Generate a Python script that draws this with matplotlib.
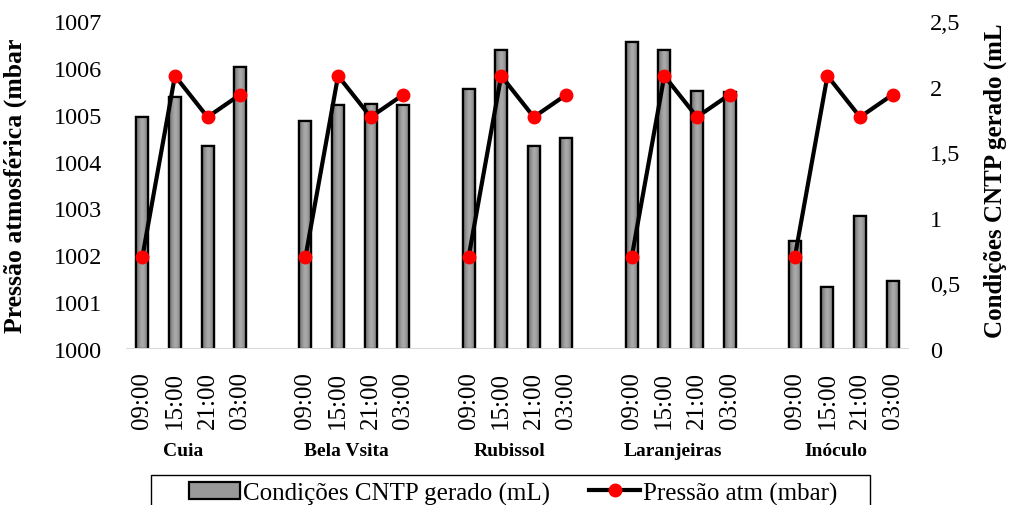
import matplotlib
matplotlib.use("Agg")
import matplotlib.pyplot as plt
from matplotlib.patches import Rectangle
from matplotlib.legend_handler import HandlerPatch
import numpy as np

plt.rcParams['font.family'] = ['Liberation Serif', 'DejaVu Serif']

groups = ["Cuia", "Bela Vsita", "Rubissol", "Laranjeiras", "Inóculo"]
times = ["09:00", "15:00", "21:00", "03:00"]
cntp = {
    "Cuia":        [1.77, 1.92, 1.55, 2.15],
    "Bela Vsita":  [1.74, 1.86, 1.87, 1.86],
    "Rubissol":    [1.98, 2.28, 1.55, 1.61],
    "Laranjeiras": [2.34, 2.28, 1.97, 1.96],
    "Inóculo":     [0.82, 0.47, 1.01, 0.52],
}
pressao = [1001.96, 1005.83, 1004.95, 1005.43]

# build 24 slots (4 bars + gap per group, last group without gap)
labels, bar_vals, line_vals = [], [], []
for gi, g in enumerate(groups):
    for ti, t in enumerate(times):
        labels.append(t)
        bar_vals.append(cntp[g][ti])
        line_vals.append(pressao[ti])
    if gi < len(groups) - 1:
        labels.append("")
        bar_vals.append(np.nan)
        line_vals.append(np.nan)
x = np.arange(len(labels))

fig = plt.figure(figsize=(10.10, 5.06), dpi=100)
ax = fig.add_axes([126/1010, 1-350/506, (909-126)/1010, (350-22)/506])
ax2 = ax.twinx()

bars = ax2.bar(x, bar_vals, width=0.37, color="#999999", edgecolor="black", linewidth=1.6,
               label="Condições CNTP gerado (mL)", zorder=2)

# horizontal gray gradient inside each bar (darker edges, lighter centre)
grad = 1 - np.abs(np.linspace(-1, 1, 64)) ** 1.5
grad = grad[np.newaxis, :]
for p in bars.patches:
    if np.isnan(p.get_height()):
        continue
    x0, w, h = p.get_x(), p.get_width(), p.get_height()
    im = ax2.imshow(grad, extent=[x0, x0 + w, 0, h], aspect="auto", cmap="gray",
                    vmin=-1.48, vmax=2.22, zorder=2.5, interpolation="bicubic")
    im.set_clip_path(p)
    ax2.add_patch(Rectangle((x0, 0), w, h, facecolor="none", edgecolor="black",
                            linewidth=1.6, zorder=3))
ax2.set_ylim(0, 2.5)
ax2.set_xlim(-0.5, len(labels) - 0.5)
ax2.set_yticks([0, 0.5, 1, 1.5, 2, 2.5])
ax2.set_yticklabels(["0", "0,5", "1", "1,5", "2", "2,5"])

line, = ax.plot(x, line_vals, color="black", lw=3, marker="o", markersize=9,
                markerfacecolor="#ff0000", markeredgecolor="#ff0000", zorder=5,
                label="Pressão atm (mbar)")
ax.set_zorder(ax2.get_zorder() + 1)
ax.patch.set_visible(False)
ax.set_ylim(1000, 1007)
ax.set_yticks(range(1000, 1008))
ax.set_xlim(-0.5, len(labels) - 0.5)
ax.set_xticks(x)
ax.set_xticklabels(labels, rotation=90, fontsize=18)

for a in (ax, ax2):
    for s in ("top", "left", "right", "bottom"):
        a.spines[s].set_visible(False)
    a.tick_params(length=0)
ax.axhline(1000, color="#d9d9d9", lw=1.5, zorder=1)
ax.tick_params(axis="y", labelsize=17.5, pad=17)
ax2.tick_params(axis="y", labelsize=17.5, pad=15)
ax.tick_params(axis="x", pad=16)

ax.set_ylabel("Pressão atmosférica (mbar", fontsize=18.5, fontweight="bold")
ax.yaxis.set_label_coords((27-126)/783, 0.5)
ax2.set_ylabel("Condições CNTP gerado (mL", fontsize=18, fontweight="bold", rotation=90)
ax2.yaxis.set_label_coords((984-126)/783, 0.515)

# group labels
for gi, g in enumerate(groups):
    cx = gi * 5 + 1.5 - 0.25
    ax.text(cx, -0.308, g, transform=ax.get_xaxis_transform(), ha="center", va="center",
            fontsize=14, fontweight="bold")


class ThinBarHandler(HandlerPatch):
    def create_artists(self, legend, orig_handle, xdescent, ydescent, width, height, fontsize, trans):
        h = height * 0.55
        r = Rectangle((-xdescent, -ydescent + (height - h) / 2), width, h,
                      facecolor="#999999", edgecolor="black", linewidth=1.6, transform=trans)
        return [r]


leg = fig.legend(handles=[bars, line], loc="center", bbox_to_anchor=(513.5/1010, 1-494/506),
                 ncol=2, fontsize=18, frameon=False, borderaxespad=0,
                 columnspacing=1.55, handlelength=2.05, handletextpad=0.12, borderpad=0.2,
                 handler_map={type(bars.patches[0]): ThinBarHandler()})

frame = Rectangle((151/1010, -0.05), (870-151)/1010, 0.05 + (506-476)/506, transform=fig.transFigure,
                  facecolor="none", edgecolor="black", linewidth=1.0)
fig.patches.append(frame)

fig.savefig("out.png", dpi=100)
